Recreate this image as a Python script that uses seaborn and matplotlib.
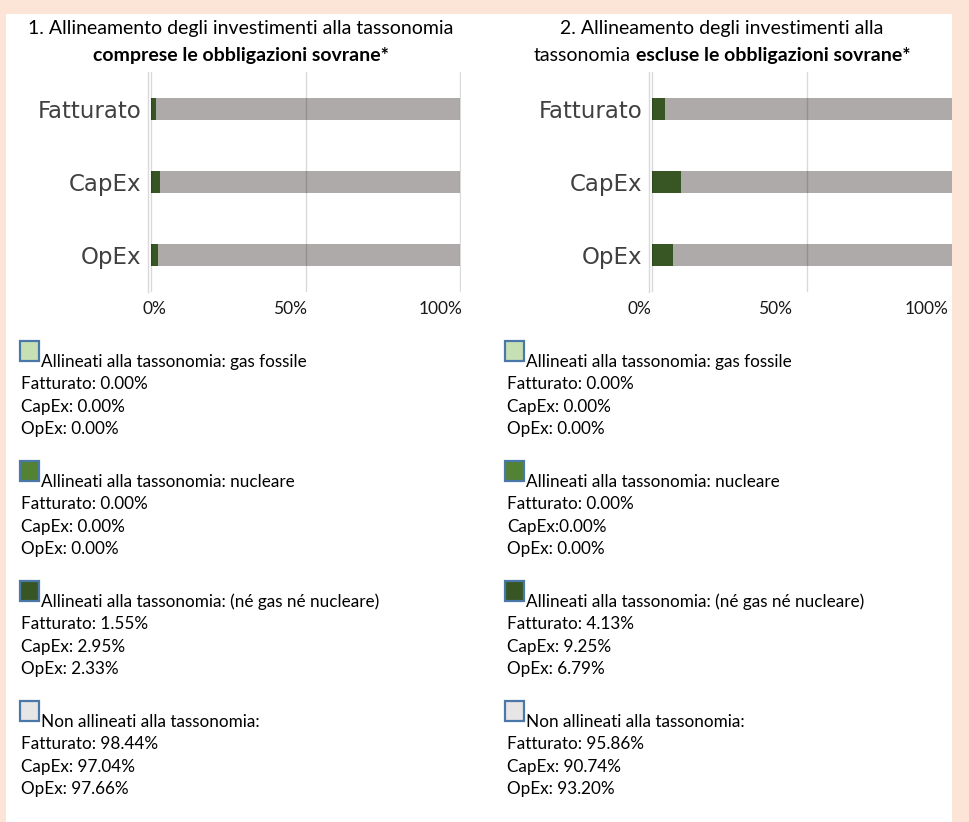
import matplotlib
matplotlib.use("Agg")
import matplotlib.pyplot as plt
import seaborn as sns
import pandas as pd
from matplotlib.patches import Rectangle

# ---------------- data ----------------
categories = ["Fatturato", "CapEx", "OpEx"]
ticks = [0, 50, 100]
tick_labels = ["0%", "50%", "100%"]

# chart 1: incl. sovereign bonds
gas1 = [0.00, 0.00, 0.00]
nuc1 = [0.00, 0.00, 0.00]
aligned1 = [1.55, 2.95, 2.33]
non1 = [98.44, 97.04, 97.66]

# chart 2: excl. sovereign bonds
gas2 = [0.00, 0.00, 0.00]
nuc2 = [0.00, 0.00, 0.00]
aligned2 = [4.13, 9.25, 6.79]
non2 = [95.86, 90.74, 93.20]

legend_titles = [
    "Allineati alla tassonomia: gas fossile",
    "Allineati alla tassonomia: nucleare",
    "Allineati alla tassonomia: (né gas né nucleare)",
    "Non allineati alla tassonomia:",
]
sep2_nuc = [": ", ":", ": "]

# ---------------- style ----------------
W, H = 970, 822
PEACH = "#FCE4D6"
GREEN_DARK = "#375623"
GRAY_BAR = "#AEAAAA"
SWATCH = ["#C6E0B4", "#548235", "#375623", "#E7E6E6"]
SWATCH_EDGE = "#4A78A8"
TEXT_FONT = ["Lato", "DejaVu Sans"]
AXIS_FONT = ["DejaVu Sans"]

sns.set_style("white")
plt.rcParams["font.family"] = TEXT_FONT

fig = plt.figure(figsize=(W / 100, H / 100), dpi=100, facecolor=PEACH)


def fx(px):
    return px / W


def fy(py):
    return 1 - py / H


# white panel (behind everything)
fig.patches.append(Rectangle((fx(6), fy(822)), fx(952) - fx(6), fy(14) - fy(822),
                             transform=fig.transFigure, facecolor="white",
                             edgecolor="none", zorder=-10))


def make_chart(left_px, zero_px, px_per_pct, right_px, aligned, non, label_dx):
    x0 = (left_px - zero_px) / px_per_pct
    x1 = (right_px - zero_px) / px_per_pct
    ax = fig.add_axes([fx(left_px), fy(292), fx(right_px) - fx(left_px), fy(72) - fy(292)])
    ax.set_facecolor("none")
    ax.set_zorder(1)
    df = pd.DataFrame({"cat": categories,
                       "aligned": aligned,
                       "total": [a + n for a, n in zip(aligned, non)]})
    sns.barplot(data=df, y="cat", x="total", color=GRAY_BAR, width=0.3,
                saturation=1, linewidth=0, ax=ax, orient="h")
    sns.barplot(data=df, y="cat", x="aligned", color=GREEN_DARK, width=0.3,
                saturation=1, linewidth=0, ax=ax, orient="h")
    ax.set_xlim(x0, x1)
    ax.set_ylim(2.5, -0.5)
    ax.set_xlabel("")
    ax.set_ylabel("")
    for v in ticks:
        ax.axvline(v, color="black", alpha=0.15, lw=1, zorder=4)
    for s in ["top", "right", "bottom"]:
        ax.spines[s].set_visible(False)
    ax.spines["left"].set_color("#D9D9D9")
    ax.spines["left"].set_linewidth(1)
    ax.set_xticks([])
    for v, lab, dx in zip(ticks, tick_labels, label_dx):
        ax.annotate(lab, xy=(v, 0), xycoords=("data", "axes fraction"),
                    xytext=(dx, -17), textcoords="offset pixels",
                    ha="center", va="center", fontsize=12.5, color="#1a1a1a",
                    annotation_clip=False)
    ax.tick_params(axis="y", length=0, pad=5, labelsize=16.5, labelcolor="#404040")
    for lab in ax.get_yticklabels():
        lab.set_family(AXIS_FONT)
    return ax


make_chart(148, 151, 3.09, 952 - 491, aligned1, non1, [3, -15, -19])
make_chart(649, 652, 3.10, 952, aligned2, non2, [-13, -32, -35])

# ---------------- titles ----------------
TITLE_SIZE = 14.0
renderer = fig.canvas.get_renderer()


def mixed_line(parts, cx, base_y, gap=4):
    texts = []
    for s, w in parts:
        t = fig.text(0, fy(base_y), s, fontsize=TITLE_SIZE, fontweight=w,
                     ha="left", va="baseline", color="black")
        texts.append(t)
    widths = [t.get_window_extent(renderer).width for t in texts]
    total = sum(widths) + gap * (len(parts) - 1)
    x = cx - total / 2
    for t, w in zip(texts, widths):
        t.set_x(fx(x))
        x += w + gap


mixed_line([("1. Allineamento degli investimenti alla tassonomia", "normal")], 241, 34)
mixed_line([("comprese le obbligazioni sovrane*", "bold")], 241, 61)
mixed_line([("2. Allineamento degli investimenti alla", "normal")], 722, 34)
mixed_line([("tassonomia", "normal"), ("escluse le obbligazioni sovrane*", "bold")], 722, 61, gap=5)

# ---------------- legends ----------------
LEG_SIZE = 12.3


def legend_column(x_sq, x_txt, gas, nuc, aligned, non, nuc_seps):
    blocks = [
        [": "] * 3,
        nuc_seps,
        [": "] * 3,
        [": "] * 3,
    ]
    values = [gas, nuc, aligned, non]
    for b in range(4):
        top = 341 + 120 * b
        fig.patches.append(Rectangle((fx(x_sq), fy(top + 20)), fx(19) - fx(0), fy(0) - fy(20),
                                     transform=fig.transFigure, facecolor=SWATCH[b],
                                     edgecolor=SWATCH_EDGE, linewidth=1.6, zorder=2))
        fig.text(fx(x_sq + 21), fy(top + 21), legend_titles[b], fontsize=LEG_SIZE,
                 ha="left", va="center", color="black")
        for i, cat in enumerate(categories):
            fig.text(fx(x_txt), fy(top + 43 + 22.7 * i),
                     f"{cat}{blocks[b][i]}{values[b][i]:.2f}%",
                     fontsize=LEG_SIZE, ha="left", va="center", color="black")


legend_column(20, 21, gas1, nuc1, aligned1, non1, [": "] * 3)
legend_column(505, 507, gas2, nuc2, aligned2, non2, sep2_nuc)

fig.savefig("out.png", dpi=100, facecolor=PEACH)
